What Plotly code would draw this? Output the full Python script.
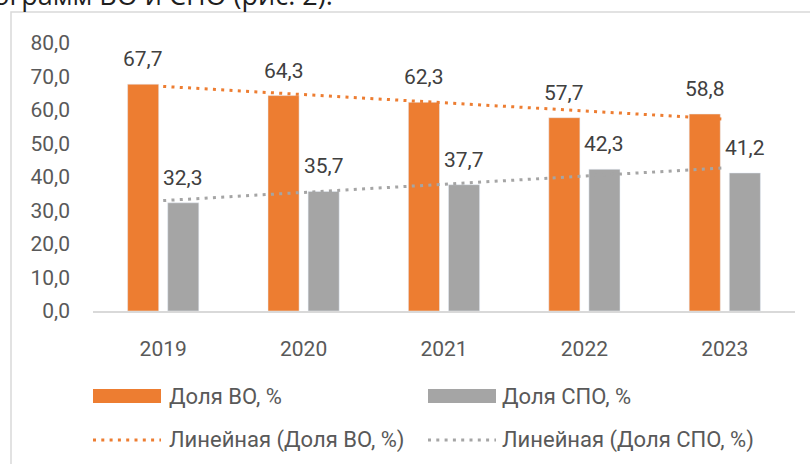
import numpy as np
import plotly.graph_objects as go

years = ["2019", "2020", "2021", "2022", "2023"]
share_vo = [67.7, 64.3, 62.3, 57.7, 58.8]
share_spo = [32.3, 35.7, 37.7, 42.3, 41.2]
name_vo = "Доля ВО, %"
name_spo = "Доля СПО, %"
trend_vo_name = "Линейная (Доля ВО, %)"
trend_spo_name = "Линейная (Доля СПО, %)"
caption = "программ ВО и СПО (рис. 2)."

ORANGE = "#ED7D31"
GRAY = "#A5A5A5"
FONT = "Roboto"

W, H = 810, 464
L, R, T, B = 93, 15, 43, 153
PW, PH = W - L - R, H - T - B


def px(x):
    """screen x -> paper x"""
    return (x - L) / PW


def py(y):
    """screen y -> paper y"""
    return (H - B - y) / PH


idx = np.arange(1, len(years) + 1)
k_vo, b_vo = np.polyfit(idx, share_vo, 1)
k_spo, b_spo = np.polyfit(idx, share_spo, 1)
trend_vo = k_vo * idx + b_vo
trend_spo = k_spo * idx + b_spo

DOT = "3px,5.3px"

fig = go.Figure()
fig.add_trace(go.Bar(x=years, y=share_vo, name=name_vo, marker_color=ORANGE,
                     showlegend=False))
fig.add_trace(go.Bar(x=years, y=share_spo, name=name_spo, marker_color=GRAY,
                     showlegend=False))
fig.add_trace(go.Scatter(x=years, y=trend_vo, mode="lines", name=trend_vo_name,
                         line=dict(color=ORANGE, width=3, dash=DOT), showlegend=False))
fig.add_trace(go.Scatter(x=years, y=trend_spo, mode="lines", name=trend_spo_name,
                         line=dict(color=GRAY, width=3, dash=DOT), showlegend=False))

annotations = []
for i, v in enumerate(share_vo):
    annotations.append(dict(x=i, y=v, xref="x", yref="y", text=f"{v:.1f}".replace(".", ","),
                            showarrow=False, xshift=-20, yshift=25, yanchor="middle",
                            font=dict(family=FONT, size=21, color="#404040")))
for i, v in enumerate(share_spo):
    annotations.append(dict(x=i, y=v, xref="x", yref="y", text=f"{v:.1f}".replace(".", ","),
                            showarrow=False, xshift=20, yshift=25, yanchor="middle",
                            font=dict(family=FONT, size=21, color="#404040")))

# legend (custom, Excel style)
leg_font = dict(family=FONT, size=22, color="#595959")
shapes = []
shapes.append(dict(type="rect", xref="paper", yref="paper", x0=px(93), x1=px(161),
                   y0=py(403), y1=py(389), fillcolor=ORANGE, line=dict(width=0)))
shapes.append(dict(type="rect", xref="paper", yref="paper", x0=px(428), x1=px(496),
                   y0=py(403), y1=py(389), fillcolor=GRAY, line=dict(width=0)))
shapes.append(dict(type="line", xref="paper", yref="paper", x0=px(93), x1=px(161),
                   y0=py(440), y1=py(440), line=dict(color=ORANGE, width=3, dash=DOT)))
shapes.append(dict(type="line", xref="paper", yref="paper", x0=px(428), x1=px(496),
                   y0=py(440), y1=py(440), line=dict(color=GRAY, width=3, dash=DOT)))
# chart border (partially visible)
shapes.append(dict(type="rect", xref="paper", yref="paper", x0=px(11), x1=px(830),
                   y0=py(480), y1=py(12), line=dict(color="#D9D9D9", width=1.5),
                   fillcolor="rgba(0,0,0,0)", layer="below"))

for text, x, y in [(name_vo, 167, 396), (name_spo, 500, 396),
                   (trend_vo_name, 167, 440), (trend_spo_name, 500, 440)]:
    annotations.append(dict(x=px(x), y=py(y), xref="paper", yref="paper", text=text,
                            showarrow=False, xanchor="left", yanchor="middle", font=leg_font))

annotations.append(dict(x=px(335), y=py(15), xref="paper", yref="paper", text=caption,
                        showarrow=False, xanchor="right", yanchor="bottom",
                        font=dict(family="Open Sans", size=27, color="#1f1f1f")))

fig.update_layout(
    width=W, height=H,
    margin=dict(l=L, r=R, t=T, b=B),
    paper_bgcolor="white", plot_bgcolor="white",
    barmode="group", bargap=0.4286, bargroupgap=0.225,
    showlegend=False,
    separators=", ",
    shapes=shapes, annotations=annotations,
    font=dict(family=FONT, size=21, color="#595959"),
)
fig.update_xaxes(type="category", range=[-0.5, len(years) - 0.5], autorange=False,
                 showgrid=False, showline=True, linecolor="#D9D9D9",
                 linewidth=1.5, ticks="", ticklabelstandoff=18,
                 tickfont=dict(family=FONT, size=21, color="#595959"))
fig.update_yaxes(range=[0, 80], dtick=10, showgrid=False, showline=False, zeroline=False,
                 tickformat=".1f", ticks="", ticklabelstandoff=22,
                 tickfont=dict(family=FONT, size=21, color="#595959"))

fig.write_html("out.html", config={"displayModeBar": False},
               post_script="document.body.style.margin='0';document.body.style.overflow='hidden';")
